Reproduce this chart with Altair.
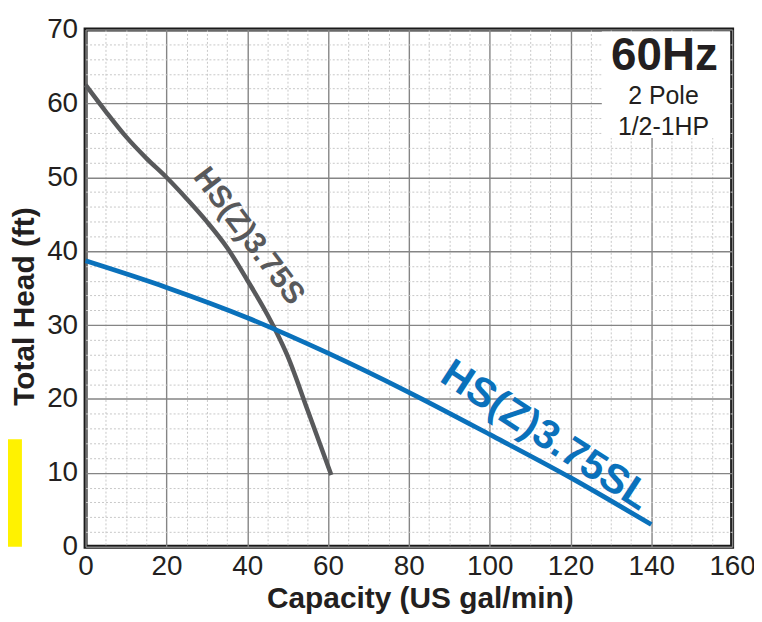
import altair as alt
import pandas as pd

# HS(Z)3.75S curve (gray)
s_flow = [0, 5, 10, 15, 20, 25, 30, 35, 40, 45, 47, 50, 55, 60.8]
s_head = [62.5, 58.9, 55.5, 52.6, 50.0, 47.1, 44.0, 40.5, 36.1, 31.4, 29.3, 25.8, 18.4, 9.7]
# HS(Z)3.75SL curve (blue)
sl_flow = [0, 20, 40, 60, 80, 100, 120, 140]
sl_head = [38.7, 35.1, 31.0, 26.2, 20.9, 15.2, 9.35, 3.0]

x_ticks = list(range(0, 161, 5))
y_ticks = list(range(0, 71, 2))

FONT = "Liberation Sans"
DARK = "#231f20"
GRAY = "#58595b"
BLUE = "#0a71bb"

df_s = pd.DataFrame({"flow": s_flow, "head": s_head})
df_sl = pd.DataFrame({"flow": sl_flow, "head": sl_head})
one = pd.DataFrame({"k": [0]})

xscale = alt.Scale(domain=[0, 160], nice=False, zero=False)
yscale = alt.Scale(domain=[0, 70], nice=False, zero=False)


def grid_props(step):
    test = f"datum.value % {step} === 0"
    return dict(
        grid=True,
        tickCount=200,
        format="d",
        gridColor={"condition": {"test": test, "value": "#858585"}, "value": "#c8c8c8"},
        gridDash={"condition": {"test": test, "value": []}, "value": [2, 2]},
        gridWidth={"condition": {"test": test, "value": 1.4}, "value": 1},
        labelExpr=f"{test} ? datum.label : ''",
        ticks=False,
        domain=False,
        labelFont=FONT,
        labelFontSize=28,
        labelColor=DARK,
        labelOverlap=False,
        labelFlush=False,
        titleFont=FONT,
        titleFontSize=30,
        titleFontWeight="bold",
        titleColor=DARK,
    )


xaxis = alt.Axis(values=x_ticks, title="Capacity (US gal/min)", labelPadding=6,
                 titlePadding=3, titleX=336, **grid_props(20))
yaxis = alt.Axis(values=y_ticks, title="Total Head (ft)", labelPadding=8,
                 titlePadding=7, titleY=278, **grid_props(10))

line_s = alt.Chart(df_s).mark_line(color=GRAY, strokeWidth=4.5, interpolate="monotone").encode(
    x=alt.X("flow:Q", scale=xscale, axis=xaxis),
    y=alt.Y("head:Q", scale=yscale, axis=yaxis),
)
line_sl = alt.Chart(df_sl).mark_line(color=BLUE, strokeWidth=4.8, interpolate="monotone").encode(
    x=alt.X("flow:Q", scale=xscale, axis=xaxis),
    y=alt.Y("head:Q", scale=yscale, axis=yaxis),
)

label_s = alt.Chart(one).mark_text(angle=53, fontSize=31, font=FONT, fontWeight="bold",
                                   color=GRAY, align="center", baseline="middle").encode(
    x=alt.datum(40.3, scale=xscale), y=alt.datum(42.0, scale=yscale), text=alt.value("HS(Z)3.75S"))
label_sl = alt.Chart(one).mark_text(angle=33, fontSize=41, font=FONT, fontWeight="bold",
                                    color=BLUE, align="center", baseline="middle").encode(
    x=alt.datum(113.8, scale=xscale), y=alt.datum(15.0, scale=yscale), text=alt.value("HS(Z)3.75SL"))

box = alt.Chart(one).mark_rect(color="white").encode(
    x=alt.value(519), x2=alt.value(648), y=alt.value(2), y2=alt.value(109))
t_hz = alt.Chart(one).mark_text(fontSize=46, font=FONT, fontWeight="bold", color=DARK,
                                align="center", baseline="middle").encode(
    x=alt.value(582), y=alt.value(27), text=alt.value("60Hz"))
t_pole = alt.Chart(one).mark_text(fontSize=25, font=FONT, color=DARK,
                                  align="center", baseline="middle").encode(
    x=alt.value(581), y=alt.value(67), text=alt.value("2 Pole"))
t_hp = alt.Chart(one).mark_text(fontSize=25, font=FONT, color=DARK,
                                align="center", baseline="middle").encode(
    x=alt.value(581), y=alt.value(98), text=alt.value("1/2-1HP"))

yellow = alt.Chart(one).mark_rect(color="#fff200").encode(
    x=alt.value(-78), x2=alt.value(-64), y=alt.value(412), y2=alt.value(520))

chart = alt.layer(line_s, line_sl, label_s, label_sl, box, t_hz, t_pole, t_hp, yellow).properties(
    width=650, height=520, autosize="none",
    padding={"left": 78, "top": 20, "right": 22, "bottom": 66},
).configure_view(stroke="#1a1a1a", strokeWidth=4)

chart.save("out.html", embed_options={"renderer": "svg", "actions": False})
